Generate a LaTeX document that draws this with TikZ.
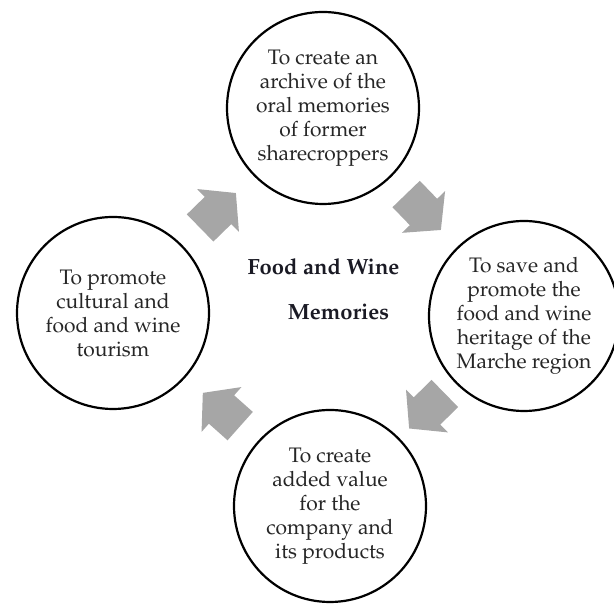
\documentclass[tikz,border=0pt]{standalone}
\usepackage[T1]{fontenc}
\renewcommand{\rmdefault}{ppl}
\usetikzlibrary{calc}
\definecolor{arrowgray}{HTML}{A6A6A6}
\definecolor{inktext}{HTML}{262626}
\definecolor{hubtext}{HTML}{1A1A24}
\tikzset{
  goal/.style={circle, draw=black, line width=2.2pt, minimum size=192pt, inner sep=0pt,
    align=center, text=inktext, font=\fontsize{21}{24}\selectfont},
  hubtitle/.style={align=center, text=hubtext, font=\fontsize{22}{45}\selectfont\bfseries},
  blockarr/.style={fill=arrowgray, draw=none}
}
% block arrow half-way between two named nodes, pointing from #1 to #2
\newcommand{\flowarrow}[2]{%
  \fill[blockarr] let \p1=($(#2.center)-(#1.center)$), \n1={atan2(\y1,\x1)},
      \p2=($(#1.center)!0.5!(#2.center)$) in
    ($(\p2)+(\n1:-25)+(\n1+90:19)$) -- ($(\p2)+(\n1+90:19)$) --
    ($(\p2)+(\n1+90:30)$) -- ($(\p2)+(\n1:25)$) -- ($(\p2)+(\n1-90:30)$) --
    ($(\p2)+(\n1-90:19)$) -- ($(\p2)+(\n1:-25)+(\n1-90:19)$) -- cycle;%
}
\begin{document}
\begin{tikzpicture}[x=1pt,y=1pt]
\useasboundingbox (0,0) rectangle (614,604);
\node[goal] (top) at (323,496) {To create an\\archive of the\\oral memories\\of former\\sharecroppers};
\node[goal, minimum size=190pt] (right) at (524,288) {To save and\\promote the\\food and wine\\heritage of the\\Marche region};
\node[goal] (bottom) at (330,98) {To create\\added value\\for the\\company and\\its products};
\node[goal] (left) at (113,291) {To promote\\cultural and\\food and wine\\tourism};
\node[hubtitle] (hub) at (323.5,314.5) {Food and Wine\\\hspace*{30pt}Memories};
\flowarrow{left}{top}
\flowarrow{top}{right}
\flowarrow{right}{bottom}
\flowarrow{bottom}{left}
\end{tikzpicture}
\end{document}
